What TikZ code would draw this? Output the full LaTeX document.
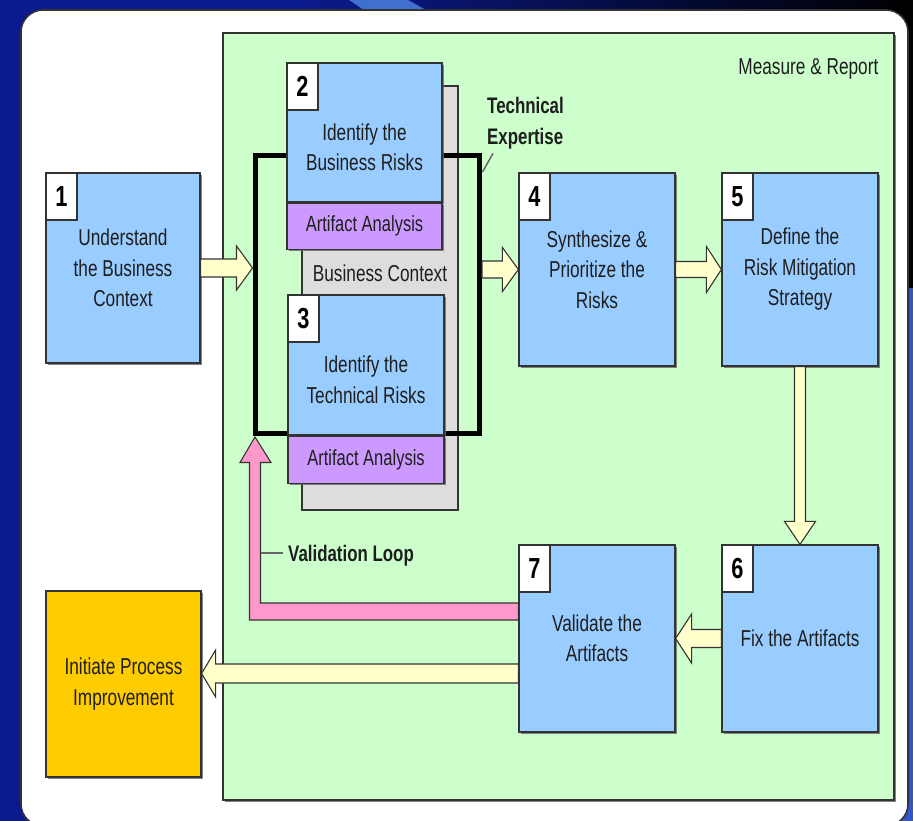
\documentclass[tikz,border=0pt]{standalone}
\usepackage{fontspec}
\setmainfont{Liberation Sans}[FakeStretch=0.75]
\usetikzlibrary{calc,shadows}

\definecolor{navy}{HTML}{0B1A8C}
\definecolor{glint}{HTML}{3F6FD0}
\definecolor{royal}{HTML}{3355CC}
\definecolor{skyfill}{HTML}{99CCFF}
\definecolor{lilac}{HTML}{CC99FF}
\definecolor{mint}{HTML}{CCFFCC}
\definecolor{amber}{HTML}{FFCC00}
\definecolor{cream}{HTML}{FFFFCC}
\definecolor{rose}{HTML}{FF99CC}
\definecolor{panegray}{HTML}{DDDDDD}
\definecolor{edge}{HTML}{333333}
\definecolor{ink}{HTML}{1E1E1E}

\newcommand\setfs[2]{\fontsize{#1}{#2}\selectfont}

% block arrow: [style]{start}{end}{shaft half width}{head half width}{head length}
\newcommand\blockarrow[6][]{%
  \path (#3) coordinate (ah-end) ($(#3)!#6!(#2)$) coordinate (ah-base);
  \draw[blockarr,#1]
    ($(#2)!#4!90:(#3)$) -- ($(ah-base)!#4!-90:(#2)$) -- ($(ah-base)!#5!-90:(#2)$)
    -- (ah-end) -- ($(ah-base)!#5!90:(#2)$) -- ($(ah-base)!#4!90:(#2)$)
    -- ($(#2)!#4!-90:(#3)$) -- cycle;}

\tikzset{
  shd/.style={drop shadow={shadow xshift=2pt,shadow yshift=-2pt,fill=black!60,opacity=0.8}},
  box/.style={draw=edge,line width=1.2pt,fill=skyfill,inner sep=0pt,align=center,
    text=ink,font=\setfs{23}{30.5},shd},
  pbox/.style={box,fill=lilac,font=\setfs{22}{24}},
  num/.style={draw=edge,line width=1.2pt,fill=white,minimum width=31pt,minimum height=47pt,
    inner sep=0pt,anchor=north west,text=black,font=\bfseries\setfs{29}{29}},
  lbl/.style={align=center,text=ink,font=\setfs{23}{30.5},inner sep=0pt},
  boldlbl/.style={align=left,text=ink,font=\bfseries\setfs{22.5}{31},inner sep=0pt},
  blockarr/.style={draw=edge,line width=1.1pt,fill=cream,line join=miter},
  loopcol/.style={draw=edge,line width=1.1pt,fill=rose,line join=miter},
  leader/.style={draw=black!60,line width=1.5pt},
}

\begin{document}
\begin{tikzpicture}[x=1pt,y=-1pt]
\useasboundingbox (0,0) rectangle (913,821);

% slide backdrop
\fill[navy] (0,0) rectangle (913,821);
\shade[left color=navy,right color=black] (300,0) rectangle (913,16);
\fill[glint] (349,0) -- (408,0) -- (437,16) -- (373,16) -- cycle;
\fill[black] (900,0) rectangle (913,288);
\fill[royal] (900,288) rectangle (913,821);

% white sheet
\draw[draw=black!80,line width=1.6pt,fill=white,rounded corners=22pt] (21,10) rectangle (908,826);

% measure & report panel
\node[draw=edge,line width=1.2pt,fill=mint,minimum width=671pt,minimum height=767pt,shd]
  (mr) at (558.5,416.5) {};
\node[lbl,anchor=east] (mrt) at ($(mr.north east)+(-16,37)$) {Measure \& Report};

% business context backing sheet
\node[draw=edge,line width=1.2pt,fill=panegray,minimum width=156pt,minimum height=424pt]
  (bc) at (380,298) {};
\node[lbl] (bct) at ($(bc.north)+(0,188)$) {Business Context};

% technical expertise bracket
\coordinate (kTL) at (255,156);
\coordinate (kBR) at (479.5,433.5);
\draw[line width=5pt,black] (kTL) rectangle (kBR);

% process boxes
\node[box,minimum width=154pt,minimum height=190pt] (b1) at (123,268)
  {Understand\\the Business\\Context};

\node[box,minimum width=155pt,minimum height=139pt] (b2) at (364.5,132.5) {};
\node[lbl] (b2t) at ($(b2.center)+(0,15)$) {Identify the\\Business Risks};
\node[pbox,anchor=north,minimum width=155pt,minimum height=46pt] (a2) at (b2.south) {Artifact Analysis};

\node[box,minimum width=156pt,minimum height=140pt] (b3) at (366,365) {};
\node[lbl] (b3t) at ($(b3.center)+(0,15)$) {Identify the\\Technical Risks};
\node[pbox,anchor=north,minimum width=156pt,minimum height=47pt] (a3) at (b3.south) {Artifact Analysis};

\node[box,minimum width=156pt,minimum height=193pt] (b4) at (597,269.5)
  {Synthesize \&\\Prioritize the\\Risks};
\node[box,minimum width=156pt,minimum height=193pt] (b5) at (800,269.5)
  {Define the\\Risk Mitigation\\Strategy};
\node[box,minimum width=156pt,minimum height=187pt] (b6) at (800,638.5)
  {Fix the Artifacts};
\node[box,minimum width=156pt,minimum height=187pt] (b7) at (597,638.5)
  {Validate the\\Artifacts};
\node[box,fill=amber,minimum width=155pt,minimum height=186pt] (yl) at (123.5,684)
  {Initiate Process\\Improvement};

% step numbers
\node[num] (n1) at (b1.north west) {1};
\node[num] (n2) at (b2.north west) {2};
\node[num] (n3) at (b3.north west) {3};
\node[num] (n4) at (b4.north west) {4};
\node[num] (n5) at (b5.north west) {5};
\node[num] (n6) at (b6.north west) {6};
\node[num] (n7) at (b7.north west) {7};

% flow arrows
\coordinate (k1) at ($(b1.east -| kTL)+(-2.5,0)$);
\blockarrow{b1.east}{k1}{9pt}{22pt}{16pt}
\coordinate (k2) at ($(b4.west -| kBR)+(2.5,0)$);
\blockarrow{k2}{b4.west}{8.5pt}{22pt}{16pt}
\blockarrow{b4.east}{b5.west}{8pt}{23pt}{15pt}
\blockarrow{b5.south}{b6.north}{5.5pt}{15.5pt}{23pt}
\blockarrow{b6.west}{b7.east}{9pt}{24.5pt}{16pt}
\coordinate (v7) at ($(b7.west)+(0,35)$);
\blockarrow{v7}{yl.east |- v7}{9.5pt}{23.5pt}{14pt}

% validation loop
\coordinate (kBL) at (kTL |- kBR);
\coordinate (lp) at ($(b7.west)+(0,-27)$);
\draw[loopcol]
  ($(lp)+(0,-8.5)$) -- ($(lp -| kBL)+(5.5,-8.5)$) -- ($(kBL)+(5.5,29)$)
  -- ($(kBL)+(16,29)$) -- ($(kBL)+(0,3.5)$) -- ($(kBL)+(-15,29)$)
  -- ($(kBL)+(-5.5,29)$) -- ($(lp -| kBL)+(-5.5,8.5)$) -- ($(lp)+(0,8.5)$) -- cycle;

% callouts
\node[boldlbl,anchor=north west] (te) at (487,97) {Technical\\Expertise};
\coordinate (teFoot) at ($(kTL -| kBR)+(3,16)$);
\draw[leader] (teFoot) -- ($(te.south west)+(6,4)$);

\node[boldlbl,anchor=west] (vl) at (288,556) {Validation Loop};
\coordinate (vlFoot) at ($(kTL |- vl.west)+(6,-3)$);
\draw[leader] (vlFoot) -- ($(vl.west)+(-5,-3)$);
\end{tikzpicture}
\end{document}
